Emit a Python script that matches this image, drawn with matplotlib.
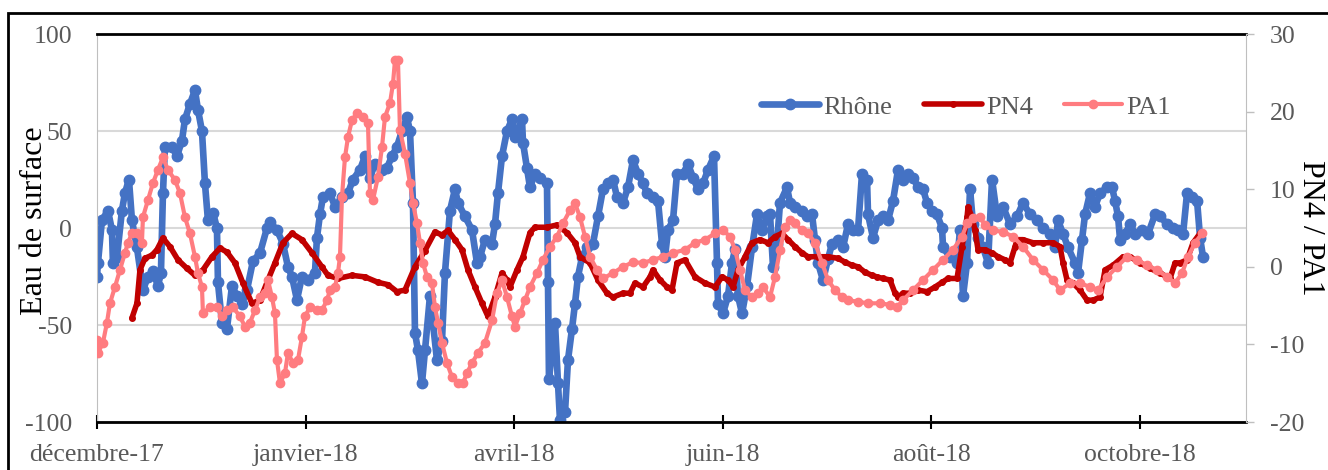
import matplotlib
matplotlib.use('Agg')
import matplotlib.pyplot as plt
import numpy as np
from matplotlib.patches import Rectangle

plt.rcParams['font.family'] = ['Liberation Serif', 'DejaVu Serif']
plt.rcParams['axes.unicode_minus'] = False

# étiquettes de l'axe des x (axe par catégories, une étiquette tous les ~104 relevés)
mois = ['décembre-17', 'janvier-18', 'avril-18', 'juin-18', 'août-18', 'octobre-18']

# Rhône (axe gauche)
rhone_x = [0, 0.5, 2.5, 5.5, 7.5, 8, 10, 12.5, 14, 16,
           17.5, 20, 23, 25.5, 28, 30.5, 32, 33, 34, 37.5,
           40, 42.5, 44, 46.5, 49, 50.5, 52.5, 54, 55.5, 58,
           60, 60.5, 62.5, 65, 67.5, 70, 72.5, 75, 78, 81.5,
           85, 86.5, 90, 93, 95.5, 97.5, 100, 102.5, 105.5, 109,
           110, 111.5, 113, 116.5, 119, 122.5, 125.5, 128, 131.5, 134,
           136.5, 139, 142.5, 145, 147.5, 150, 152.5, 155, 156.5, 158,
           159, 160.5, 162.5, 164, 166.5, 168, 170, 172.5, 174, 176.5,
           179, 180.5, 184, 187.5, 190, 191.5, 194, 197.5, 199, 200.5,
           202.5, 205, 207.5, 209, 212.5, 213, 215, 216.5, 219, 221.5,
           225, 225.5, 226, 229, 230.5, 231.5, 234, 235.5, 237.5, 239,
           240.5, 242.5, 245, 248, 250.5, 253, 255.5, 258, 260, 263,
           265.5, 268, 270.5, 273, 275, 278, 280.5, 282.5, 284, 285.5,
           288, 290, 293, 295.5, 298, 300.5, 303, 305.5, 308.5, 310,
           310.5, 313, 315.5, 317.5, 319, 320.5, 322.5, 325, 327.5, 330,
           332.5, 335, 336.5, 338, 340, 341.5, 345, 346.5, 349, 352.5,
           355, 357.5, 359, 360.5, 363, 365.5, 367.5, 370.5, 373, 375.5,
           378, 380.5, 382.5, 385, 385.5, 388, 390.5, 393, 395.5, 398,
           400.5, 403, 405.5, 408, 410.5, 413, 415, 417.5, 420, 422.5,
           423, 426.5, 430, 431.5, 433, 435, 436.5, 438, 440.5, 443,
           445.5, 447.5, 450, 453, 456.5, 460, 463, 466.5, 470, 473,
           476.5, 479, 480.5, 483, 485.5, 489, 490.5, 492.5, 494, 496.5,
           499, 501.5, 505, 507.5, 509, 510.5, 511.5, 514, 516.5, 519,
           522.5, 525.5, 529, 531.5, 535, 538, 540.5, 543, 545, 547.5,
           550, 551.5, 553]
rhone_y = [-25, -18, 4, 9, -1, -18, -15, 9, 18, 25,
           4, -10, -32, -25, -22, -30, -23, 18, 42, 42,
           37, 45, 56, 64, 71, 61, 50, 23, 4, 8,
           0, -28, -49, -52, -30, -35, -39, -32, -17, -13,
           0, 3, -1, -8, -20, -25, -37, -25, -27, -23,
           -5, 7, 16, 18, 11, 16, 18, 25, 30, 37,
           26, 33, 30, 31, 37, 42, 50, 57, 50, 13,
           -54, -63, -80, -63, -35, -49, -68, -58, -23, 9,
           20, 13, 6, -1, -18, -15, -6, -8, 2, 18,
           37, 50, 56, 47, 56, 44, 31, 21, 28, 26,
           23, -28, -78, -49, -80, -99, -95, -68, -52, -39,
           -25, -15, -10, -8, 6, 20, 23, 25, 16, 13,
           21, 35, 28, 23, 18, 16, 14, -8, -15, -1,
           4, 28, 28, 33, 26, 20, 23, 30, 37, -18,
           -39, -44, -35, -18, -11, -35, -44, -30, -10, 7,
           -1, 6, 7, -20, -8, 13, 21, 13, 11, 9,
           6, 7, -6, -18, -27, -16, -8, -6, -10, 2,
           -1, -1, 28, 25, 7, -5, 4, 6, 4, 14,
           30, 25, 28, 26, 21, 20, 13, 9, 7, 0,
           -10, -15, -18, -1, -35, -18, 20, 2, -5, -10,
           -18, 25, 6, 11, 2, 6, 13, 7, 4, 0,
           -3, -10, 4, -3, -10, -18, -23, -6, 7, 18,
           11, 18, 21, 21, 14, 6, -6, -3, 2, -3,
           -1, -3, 7, 6, 2, 0, -1, -3, 18, 16,
           14, -5, -15]

# PN4 (axe droit)
pn4_x = [17.5, 20, 21.5, 24, 27.5, 30, 33, 36.5, 40.5, 45,
         49, 53, 57.5, 61.5, 65, 69, 73, 77.5, 81.5, 85.5,
         89, 93, 97.5, 102.5, 107.5, 112.5, 115.5, 120.5, 127.5, 134,
         140.5, 145.5, 150, 154, 159, 164, 169, 172.5, 175.5, 179,
         182.5, 185.5, 189, 192.5, 195.5, 199, 202.5, 205, 206.5, 210,
         213, 216.5, 219, 225, 230, 235, 239, 241.5, 246.5, 250.5,
         255, 258, 263, 266.5, 269, 273, 276.5, 278, 281.5, 285,
         287.5, 290, 294, 299, 304, 309, 312.5, 315.5, 318, 320.5,
         324, 327.5, 331.5, 335.5, 339, 342.5, 345.5, 349, 352.5, 355.5,
         360.5, 365.5, 370.5, 374, 377.5, 380.5, 384, 387.5, 390, 393,
         396.5, 399, 400.5, 403, 406.5, 410.5, 415, 419, 422.5, 425.5,
         430, 432.5, 435, 435.5, 437.5, 439, 440.5, 444, 447.5, 450.5,
         454, 456.5, 459, 460, 463, 468, 473, 478, 481.5, 483,
         485, 488, 491.5, 495, 498, 501.5, 504, 508, 513, 516.5,
         521.5, 526.5, 531.5, 536.5, 539, 541.5, 545, 548, 551.5]
pn4_y = [-6.6, -4.7, -0.4, 1.1, 1.5, 2.2, 3.7, 2.6, 0.9, -0.2,
         -1.1, -0.4, 1.3, 2.4, 1.9, 0.5, -2.1, -4.7, -4.3, -1.7,
         0.5, 3.1, 4.3, 3.5, 1.8, 0, -1.1, -1.5, -1.1, -1.3,
         -2, -2.3, -3.2, -3, 0, 2.1, 4.5, 4.1, 4.7, 3.5,
         2.2, -0.4, -2.6, -4.7, -6.4, -3.9, -0.8, -1.7, -2.6, -0.4,
         1.3, 4.4, 5.1, 5.1, 5.4, 4.4, 3.1, 1.3, 0.5, -1.7,
         -3.4, -3.9, -3.4, -3.4, -2.1, -2.6, -1.3, -0.4, -1.7, -2.6,
         -3, 0.5, 0.9, -1.3, -2.1, -2.6, -1.3, -1.7, -2.6, -0.4,
         1.3, 3.1, 3.5, 3.1, 3.9, 4.3, 3.5, 2.6, 1.8, 1.3,
         1.3, 1.3, 1.1, 0.6, 0.2, 0, -0.7, -1.1, -1.3, -1.5,
         -1.7, -3.4, -3.9, -3.4, -3.4, -3, -3.2, -2.6, -2, -1.5,
         -1.5, 2.6, 6.4, 7.7, 6.4, 4.7, 2.2, 2.2, 1.8, 1.3,
         0.9, 0.5, 2.6, 3.5, 3.5, 3.1, 3.1, 3.1, 2.6, 0.5,
         -1.7, -2.1, -3, -4.3, -4.3, -3.9, -0.4, 0.2, 1.3, 1.3,
         0.5, -0.2, -0.8, -1.5, 0.5, 0.5, 0.9, 3.1, 4.3]

# PA1 (axe droit)
pa1_x = [0, 0.5, 3, 5, 6.5, 9, 11.5, 14, 15.5, 17.5,
         20, 22.5, 23, 25.5, 28, 30.5, 33, 35.5, 39, 41.5,
         44, 46.5, 49, 50.5, 52.5, 53, 56.5, 60, 62.5, 65,
         68, 71.5, 74, 76.5, 79, 81.5, 84, 85.5, 87.5, 89,
         90, 91.5, 94, 95.5, 98, 100.5, 102.5, 104, 106.5, 110,
         112.5, 115, 116.5, 119, 120.5, 121.5, 122.5, 124, 125.5, 127.5,
         130, 133, 135.5, 136.5, 138, 140.5, 142.5, 144, 146.5, 148,
         149, 150.5, 151.5, 154, 156.5, 158, 160, 161.5, 163, 165,
         167.5, 169, 170.5, 172.5, 175, 177.5, 180.5, 183, 185, 187.5,
         190.5, 194, 197.5, 200, 202.5, 205, 207.5, 209, 211.5, 214,
         216.5, 220, 223, 226.5, 230, 233, 236.5, 239, 241.5, 244,
         246.5, 250, 253, 258, 263, 268, 273, 278, 283, 288,
         294, 299, 304, 309, 313, 316.5, 319, 321.5, 324, 327.5,
         330.5, 333, 336.5, 339, 341.5, 344, 346.5, 349, 352.5, 355.5,
         359, 362.5, 365.5, 369, 372.5, 375.5, 380.5, 385.5, 391.5, 396.5,
         400, 403, 408, 413, 418, 423, 428, 432.5, 435, 438,
         441.5, 444, 448, 453, 458, 463, 468, 473, 478, 481.5,
         486.5, 491.5, 496.5, 500.5, 505, 510, 515, 520, 525, 530,
         535, 539, 542.5, 545.5, 549, 552.5]
pa1_y = [-9.4, -11.1, -9.8, -7.2, -4.7, -2.6, -0.4, 1.8, 3.1, 4.3,
         4.3, 3.1, 6.4, 8.6, 10.8, 12.5, 14.1, 12.5, 11.2, 9.5,
         6.4, 4.3, 1.3, -0.8, -2.6, -6, -5.2, -5.2, -6.4, -5.6,
         -5.2, -6.4, -7.7, -7.2, -5.6, -3.9, -3.4, -1.7, -3.9, -6,
         -12, -15, -13.7, -11.1, -12.4, -12, -9, -6.4, -5.2, -5.6,
         -5.6, -4.3, -3, -2.6, -0.8, 1.3, 9, 14.1, 16.7, 18.9,
         19.8, 19.3, 18.5, 9.5, 8.6, 11.6, 15.4, 19.3, 21.1, 23.6,
         26.6, 26.6, 17.6, 14.6, 10.8, 8.2, 5.6, 3.1, 0.5, -1.3,
         -2.1, -5.2, -7.2, -9.8, -12.4, -14.2, -15, -15, -13.7, -12.4,
         -11.1, -9.8, -6.9, -3.4, -1.7, -3.9, -6.4, -7.7, -6, -4.3,
         -2.6, -0.8, 0.9, 2.6, 3.9, 5.6, 7.3, 8.2, 6.4, 3.9,
         1.3, -0.4, -1.5, -0.8, 0, 0.6, 0.5, 0.9, 1.3, 1.8,
         2.2, 3.1, 3.5, 4.3, 4.7, 3.9, 2.2, -0.4, -3, -3.9,
         -3.4, -2.6, -3.9, -1.3, 2.2, 5.1, 6, 5.6, 4.7, 4.3,
         3.1, 0.5, -1.7, -3, -3.9, -4.3, -4.5, -4.7, -4.7, -4.9,
         -5.2, -4.3, -3, -1.7, -0.4, 0.9, 2.2, 3.9, 5.6, 6.3,
         6.4, 5.4, 4.7, 4.5, 3.9, 2.6, 0.9, -0.4, -1.7, -3,
         -2.1, -2.1, -2.6, -3, -1.3, 0, 1.3, 0.9, 0.2, -0.4,
         -1.3, -2.1, -0.8, 1.3, 3.1, 4.3]

gris = '#595959'
gris_axe = '#BFBFBF'

fig = plt.figure(figsize=(13.28, 4.70), dpi=100)
ax = fig.add_axes([0.0730, 0.1021, 0.8653, 0.8255])
ax2 = ax.twinx()

l1, = ax.plot(rhone_x, rhone_y, color='#4472C4', lw=4.8, marker='o', ms=7.5,
              solid_joinstyle='round', solid_capstyle='round', label='Rhône')
l2, = ax2.plot(pn4_x, pn4_y, color='#C00000', lw=4.0, marker='o', ms=4,
               solid_joinstyle='round', solid_capstyle='round', label='PN4')
l3, = ax2.plot(pa1_x, pa1_y, color='#FF7C80', lw=3.0, marker='o', ms=6,
               solid_joinstyle='round', solid_capstyle='round', label='PA1')

ax.set_xlim(0, 574.5)
ax.set_ylim(-100, 100)
ax2.set_ylim(-20, 30)
ax.set_yticks([-100, -50, 0, 50, 100])
ax2.set_yticks([-20, -10, 0, 10, 20, 30])
ax.set_xticks(np.linspace(0, 521.5, 6))
ax.set_xticklabels(mois)

ax.yaxis.grid(True, color='#D9D9D9', lw=1.5)
ax.set_axisbelow(True)

for s in ['top', 'bottom']:
    ax.spines[s].set_color('black')
    ax.spines[s].set_linewidth(2)
ax.spines['left'].set_color(gris_axe)
ax.spines['right'].set_visible(False)
for s in ['top', 'bottom', 'left']:
    ax2.spines[s].set_visible(False)
ax2.spines['right'].set_color(gris_axe)

ax.tick_params(axis='x', direction='inout', length=10, width=1.5, color='black',
               labelsize=18.5, labelcolor=gris, pad=11)
ax.tick_params(axis='y', length=0, labelsize=18.5, labelcolor=gris, pad=18)
ax2.tick_params(axis='y', length=6, width=1, color=gris_axe,
                labelsize=18.5, labelcolor=gris, pad=11)

ax.set_ylabel('Eau de surface', fontsize=23, color='black')
ax.yaxis.set_label_coords(-0.042, 0.52)
ax2.set_ylabel('PN4 / PA1', fontsize=23, color='black', rotation=270, va='bottom')
ax2.yaxis.set_label_coords(1.0435, 0.5)

ax2.legend([l1, l2, l3], ['Rhône', 'PN4', 'PA1'], ncol=3, frameon=False,
           loc='center right', bbox_to_anchor=(0.946, 0.812), borderpad=0,
           fontsize=19, handlelength=2.2, columnspacing=1.2, handletextpad=0.15,
           labelcolor=gris)

fig.add_artist(Rectangle((8 / 1328, -0.1), 1.2, 1.0723, transform=fig.transFigure,
                         fill=False, ec='black', lw=2))

fig.savefig('out.png', dpi=100)
